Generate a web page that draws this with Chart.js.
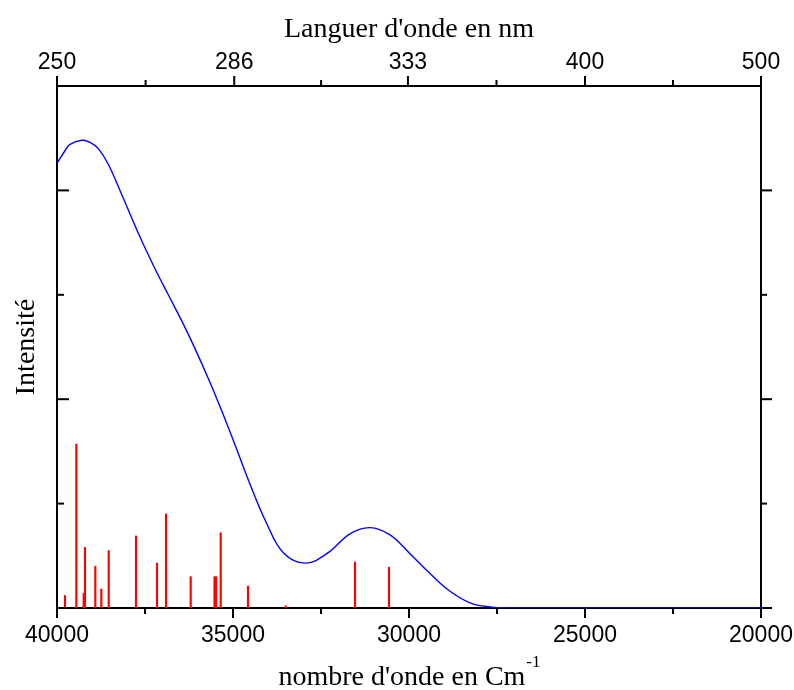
<!DOCTYPE html>
<html>
<head>
<meta charset="utf-8">
<script src="https://cdn.jsdelivr.net/npm/chart.js@4"></script>
<style>
  body { margin: 0; background: #fff; }
  #chart { display: block; }
</style>
</head>
<body>
<canvas id="chart" width="794" height="690"></canvas>
<script>
// axis ticks
const wavenumberTicks = [40000, 35000, 30000, 25000, 20000];
const wavenumberMinor = [37500, 32500, 27500, 22500];
const wavelengthTicks = [250, 286, 333, 400, 500];

// broadened spectrum (blue)
const curveX = [40000, 39773, 39631, 39298, 39062, 38827, 38543, 38162, 37690, 37216, 36838, 36457, 36128, 35653,
  35276, 34895, 34545, 34043, 33571, 32955, 32338, 31676, 31108, 30540, 29972, 29403, 28835, 28267, 27699, 27131, 20000];
const curveY = [4.26, 4.38, 4.44, 4.48, 4.46, 4.40, 4.25, 3.96, 3.59, 3.25, 3.00, 2.75, 2.52, 2.16,
  1.85, 1.52, 1.21, 0.81, 0.53, 0.43, 0.52, 0.71, 0.77, 0.70, 0.52, 0.33, 0.16, 0.05, 0.01, 0.00, 0.00];

// transitions (red sticks)
const stickX = [39773, 39451, 39241, 39205, 38912, 38741, 38531, 37756, 37159, 36903, 36202, 35525, 35480, 35349, 34574, 33503, 31534, 30568];
const stickY = [0.12, 1.57, 0.14, 0.58, 0.40, 0.18, 0.55, 0.69, 0.43, 0.90, 0.30, 0.30, 0.30, 0.72, 0.21, 0.02, 0.44, 0.39];

const serif = "'Liberation Serif', 'Times New Roman', serif";
const sans = "'Liberation Sans', Arial, sans-serif";

const tickMarks = {
  id: 'tickMarks',
  afterDraw(chart) {
    const { ctx, chartArea: a, scales } = chart;
    ctx.save();
    ctx.strokeStyle = '#000';
    ctx.lineWidth = 2;
    const seg = (x1, y1, x2, y2) => { ctx.beginPath(); ctx.moveTo(x1, y1); ctx.lineTo(x2, y2); ctx.stroke(); };

    wavenumberTicks.forEach(v => { const x = scales.x.getPixelForValue(v); seg(x, a.bottom, x, a.bottom + 10); });
    wavenumberMinor.forEach(v => { const x = scales.x.getPixelForValue(v); seg(x, a.bottom, x, a.bottom + 6); });

    const top = wavelengthTicks.map(l => 1e7 / l);
    top.forEach(v => { const x = scales.x2.getPixelForValue(v); seg(x, a.top, x, a.top - 10); });
    for (let i = 0; i < top.length - 1; i++) {
      const x = scales.x2.getPixelForValue((top[i] + top[i + 1]) / 2);
      seg(x, a.top, x, a.top - 6);
    }

    [0, 2, 4].forEach(v => {
      const y = scales.y.getPixelForValue(v);
      seg(a.left, y, a.left + 12, y);
      seg(a.right, y, a.right + 11, y);
    });
    [1, 3].forEach(v => {
      const y = scales.y.getPixelForValue(v);
      seg(a.left, y, a.left + 7, y);
      seg(a.right, y, a.right + 6, y);
    });

    // bottom title with superscript
    const main = "nombre d'onde en Cm";
    const sup = '-1';
    ctx.fillStyle = '#000';
    ctx.textBaseline = 'alphabetic';
    ctx.textAlign = 'left';
    ctx.font = '28px ' + serif;
    const w1 = ctx.measureText(main).width;
    ctx.font = '17px ' + serif;
    const w2 = ctx.measureText(sup).width;
    const x0 = (a.left + a.right) / 2 - (w1 + w2) / 2;
    ctx.font = '28px ' + serif;
    ctx.fillText(main, x0, 685);
    ctx.font = '17px ' + serif;
    ctx.fillText(sup, x0 + w1 + 1, 667);
    ctx.restore();
  }
};

const border = { display: true, width: 2, color: '#000' };
const noGrid = { display: false, drawTicks: false, offset: false };

// keep the plot box fixed, let edge labels overhang
const fitX = h => s => { s.height = h; s.paddingLeft = 0; s.paddingRight = 0; };

new Chart(document.getElementById('chart'), {
  data: {
    datasets: [
      {
        type: 'line',
        data: curveX.map((x, i) => ({ x: x, y: curveY[i] })),
        borderColor: '#0000ff',
        borderWidth: 1.4,
        pointRadius: 0,
        tension: 0.4,
        xAxisID: 'x',
        yAxisID: 'y'
      },
      {
        type: 'bar',
        data: stickX.map((x, i) => ({ x: x, y: stickY[i] })),
        backgroundColor: '#ff0000',
        barThickness: 1.5,
        xAxisID: 'x',
        yAxisID: 'y'
      }
    ]
  },
  options: {
    responsive: false,
    animation: false,
    devicePixelRatio: 1,
    layout: { padding: 0 },
    plugins: { legend: { display: false }, tooltip: { enabled: false } },
    scales: {
      x: {
        type: 'linear',
        position: 'bottom',
        reverse: true,
        offset: false,
        min: 20000,
        max: 40000,
        grid: noGrid,
        border: border,
        afterBuildTicks: s => { s.ticks = wavenumberTicks.map(v => ({ value: v })); },
        afterFit: fitX(82),
        ticks: {
          autoSkip: false,
          maxRotation: 0,
          padding: 14,
          color: '#000',
          font: { family: sans, size: 23 },
          callback: v => String(v)
        }
      },
      x2: {
        type: 'linear',
        position: 'top',
        reverse: true,
        offset: false,
        min: 20000,
        max: 40000,
        grid: noGrid,
        border: border,
        afterBuildTicks: s => { s.ticks = wavelengthTicks.map(l => ({ value: 1e7 / l })); },
        afterFit: fitX(86),
        ticks: {
          autoSkip: false,
          maxRotation: 0,
          padding: 10,
          color: '#000',
          font: { family: sans, size: 23 },
          callback: v => String(Math.round(1e7 / v))
        },
        title: {
          display: true,
          text: "Languer d'onde en nm",
          color: '#000',
          font: { family: serif, size: 28 },
          padding: { top: 13, bottom: 0 }
        }
      },
      y: {
        type: 'linear',
        position: 'left',
        min: 0,
        max: 5,
        grid: noGrid,
        border: border,
        afterFit: s => { s.width = 57; },
        ticks: { display: false },
        title: {
          display: true,
          text: 'Intensité',
          color: '#000',
          font: { family: serif, size: 28 },
          padding: { top: 10, bottom: 0 }
        }
      },
      y2: {
        type: 'linear',
        position: 'right',
        min: 0,
        max: 5,
        grid: noGrid,
        border: border,
        afterFit: s => { s.width = 33; },
        ticks: { display: false }
      }
    }
  },
  plugins: [tickMarks]
});
</script>
</body>
</html>
